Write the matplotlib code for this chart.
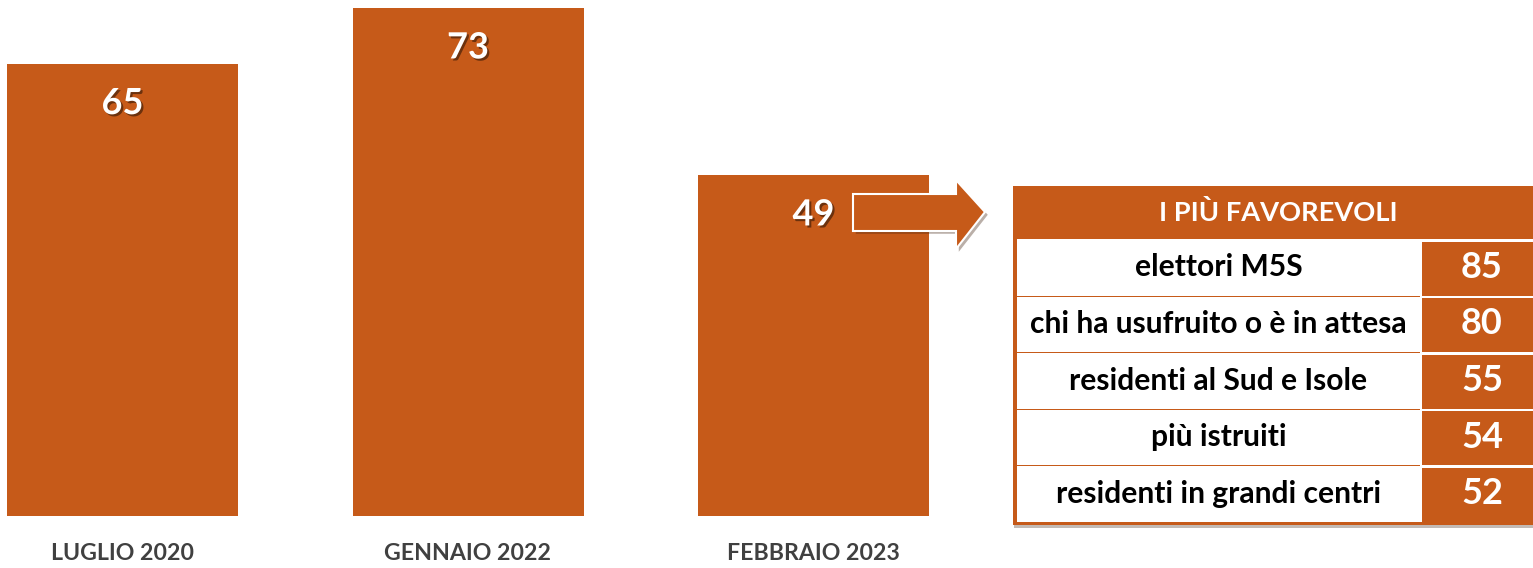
import matplotlib
matplotlib.use("Agg")
import matplotlib.pyplot as plt
import matplotlib.patheffects as pe
from matplotlib.patches import Rectangle, Polygon

# ---- data ----
periods = ["LUGLIO 2020", "GENNAIO 2022", "FEBBRAIO 2023"]
values = [65, 73, 49]
table_title = "I PIÙ FAVOREVOLI"
groups = ["elettori M5S", "chi ha usufruito o è in attesa", "residenti al Sud e Isole",
          "più istruiti", "residenti in grandi centri"]
group_values = [85, 80, 55, 54, 52]

ORANGE = "#C65A19"
FONT = "Lato"
plt.rcParams['font.family'] = [FONT, 'DejaVu Sans']

W, H = 1533, 568
fig = plt.figure(figsize=(W / 100, H / 100), dpi=100)
ax = fig.add_axes([0, 0, 1, 1])
ax.set_axis_off()

# scale: 345.5 px per category, 6.96 px per unit, baseline 516 px from top
px_x = 345.5
px_y = 6.96
ax.set_xlim(-122.5 / px_x, (W - 122.5) / px_x)
ax.set_ylim(-(H - 516) / px_y, 516 / px_y)

xs = list(range(len(periods)))
ax.bar(xs, values, width=231 / px_x, color=ORANGE, zorder=2)

shadow = [pe.SimplePatchShadow(offset=(1.5, -1.5), shadow_rgbFace="black", alpha=0.45), pe.Normal()]
for x, v in zip(xs, values):
    ax.text(x, v - 40 / px_y, str(v), ha="center", va="center", color="white",
            fontsize=26, fontweight="bold", path_effects=shadow, zorder=3)
for x, lab in zip(xs, periods):
    ax.text(x, -38 / px_y, lab, ha="center", va="center", color="#404040",
            fontsize=16.7, fontweight="bold", zorder=3)

# ---- overlay in pixel coordinates for arrow and table ----
ov = fig.add_axes([0, 0, 1, 1])
ov.set_axis_off()
ov.set_xlim(0, W)
ov.set_ylim(H, 0)
ov.patch.set_alpha(0)

arrow_pts = [(853, 194), (956, 194), (956, 180), (985, 212), (956, 249), (956, 231), (853, 231)]
arr = Polygon(arrow_pts, closed=True, facecolor=ORANGE, edgecolor="white", linewidth=1.5,
              zorder=4, path_effects=[pe.SimplePatchShadow(offset=(2, -2), alpha=0.35), pe.Normal()])
ov.add_patch(arr)

# table frame with shadow
tx0, tx1, ty0, ty1 = 1013, 1533, 186, 525
frame = Rectangle((tx0, ty0), tx1 - tx0, ty1 - ty0, facecolor=ORANGE, edgecolor="none", zorder=2,
                  path_effects=[pe.SimplePatchShadow(offset=(1, -2.5), alpha=0.3), pe.Normal()])
ov.add_patch(frame)
header_bottom = 239
ov.text(1278, (ty0 + header_bottom) / 2, table_title, ha="center", va="center",
        color="white", fontsize=19.6, fontweight="bold", zorder=5)

row_h = (522 - header_bottom) / len(groups)
lx0, lx1, rx0 = 1017, 1420, 1422
for i, (g, v) in enumerate(zip(groups, group_values)):
    y0 = header_bottom + i * row_h
    ov.add_patch(Rectangle((lx0, y0 + (1 if i else 0)), lx1 - lx0, row_h - (1 if i else 0),
                           facecolor="white", edgecolor="none", zorder=3))
    ov.add_patch(Rectangle((rx0, y0), tx1 - rx0, 2.5, facecolor="white", edgecolor="none", zorder=3))
    yc = y0 + row_h / 2
    ov.text((lx0 + lx1) / 2, yc, g, ha="center", va="center", color="black",
            fontsize=21.6, fontweight="bold", zorder=5)
    ov.text(1482, yc, str(v), ha="center", va="center", color="white",
            fontsize=26, fontweight="bold", zorder=5)
ov.add_patch(Rectangle((lx1, header_bottom), rx0 - lx1, 522 - header_bottom, facecolor="white",
                       edgecolor="none", zorder=3))

fig.savefig("out.png", dpi=100, facecolor="white")
